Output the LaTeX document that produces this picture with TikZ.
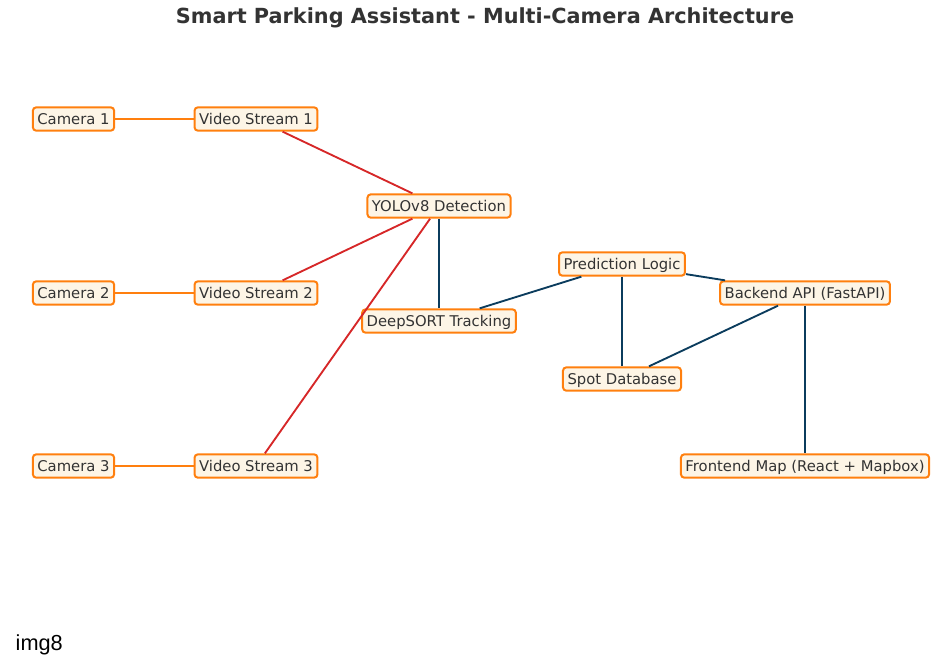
\documentclass[tikz,border=0pt]{standalone}
\usepackage{fontspec}
\setmainfont{DejaVu Sans}
\newfontfamily\labelfont{Liberation Sans}
\definecolor{boxline}{HTML}{FF7F0E}
\definecolor{boxfill}{HTML}{FDF5E6}
\definecolor{feedred}{HTML}{D62728}
\definecolor{coreblue}{HTML}{0B3C5D}
\definecolor{titlegray}{HTML}{333333}

\begin{document}
\begin{tikzpicture}[x=0.75pt,y=-0.75pt,
    comp/.style={draw=boxline, fill=boxfill, line width=1.5pt, rounded corners=2.5pt,
        inner xsep=3.4pt, inner ysep=0pt, minimum height=17.5pt,
        text height=8.6pt, text depth=0.6pt, text=titlegray,
        font=\fontsize{11.1}{13}\selectfont},
    camlink/.style={boxline, line width=1.4pt},
    feed/.style={feedred, line width=1.4pt},
    flow/.style={coreblue, line width=1.4pt}]

    \useasboundingbox (0,0) rectangle (938,662);

    \node[font=\fontsize{15.6}{18}\selectfont\bfseries, text=titlegray] (title) at (485,18) {Smart Parking Assistant - Multi-Camera Architecture};

    \node[comp] (cam1) at (73.5,119) {Camera 1};
    \node[comp] (cam2) at (73.5,293) {Camera 2};
    \node[comp] (cam3) at (73.5,466) {Camera 3};
    \node[comp] (vs1) at (256,119) {Video Stream 1};
    \node[comp] (vs2) at (256,293) {Video Stream 2};
    \node[comp] (vs3) at (256,466) {Video Stream 3};
    \node[comp] (yolo) at (439,206) {YOLOv8 Detection};
    \node[comp] (sort) at (439,321) {DeepSORT Tracking};
    \node[comp] (pred) at (622,264) {Prediction Logic};
    \node[comp] (spot) at (622,379) {Spot Database};
    \node[comp] (api) at (805,293) {Backend API (FastAPI)};
    \node[comp] (map) at (805,466) {Frontend Map (React + Mapbox)};

    \foreach \i in {1,2,3} {
        \draw[camlink] (cam\i) -- (vs\i);
        \draw[feed] (vs\i) -- (yolo);
    }
    \draw[flow] (yolo) -- (sort);
    \draw[flow] (sort) -- (pred);
    \draw[flow] (pred) -- (spot);
    \draw[flow] (pred) -- (api);
    \draw[flow] (api) -- (spot);
    \draw[flow] (api) -- (map);

    \node[anchor=base west, font=\labelfont\fontsize{16.3}{18}\selectfont] (tag) at (11,650) {img8};

\end{tikzpicture}
\end{document}
